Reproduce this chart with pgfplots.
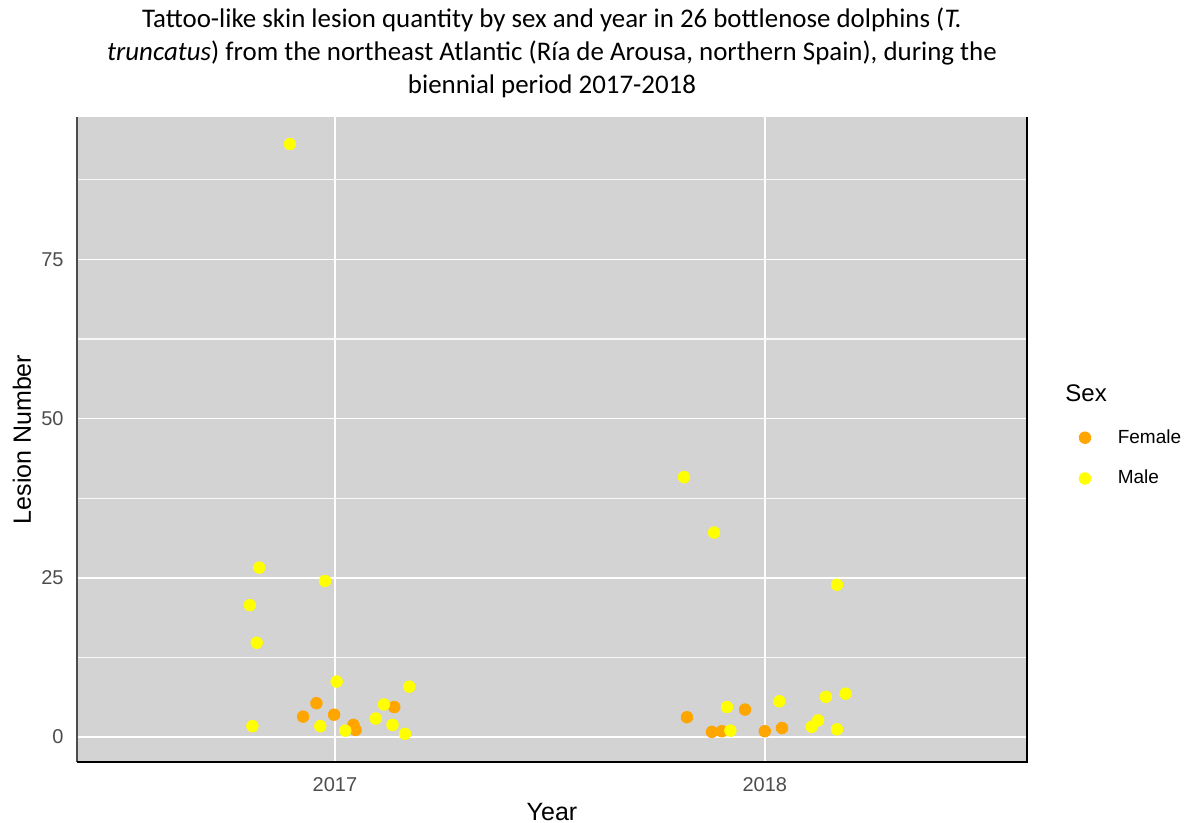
\documentclass[border=0pt]{standalone}
\usepackage{fontspec}
\setmainfont{Liberation Sans}
\newfontfamily\titlefont{Carlito}
\usepackage{pgfplots}
\pgfplotsset{compat=1.18}

\definecolor{panel}{HTML}{D3D3D3}
\definecolor{fem}{HTML}{FFA500}
\definecolor{mal}{HTML}{FFFF00}
\definecolor{tickgray}{HTML}{4D4D4D}

\begin{document}
\begin{tikzpicture}
\useasboundingbox (-38.5pt,-30.5pt) rectangle (556pt,381pt);
\begin{axis}[
  at={(0,0)}, anchor=south west,
  scale only axis, width=475pt, height=322.5pt,
  xmin=2016.4, xmax=2018.61, ymin=-3.93, ymax=97.35,
  xtick={2017,2018}, ytick={0,25,50,75},
  minor ytick={12.5,37.5,62.5,87.5},
  major tick length=0pt, minor tick length=0pt,
  xmajorgrids, ymajorgrids, yminorgrids,
  major grid style={white, line width=0.8pt},
  minor grid style={white!85!panel, line width=0.6pt},
  axis background/.style={fill=panel},
  axis line style={draw=none},
  /pgf/number format/assume math mode=true,
  /pgf/number format/1000 sep={},
  ticklabel style={font=\fontsize{10}{12}\selectfont, text=tickgray},
  xticklabel style={yshift=-4pt},
  yticklabel style={xshift=-3.2pt},
  xlabel={Year}, ylabel={Lesion Number},
  every axis x label/.style={at={(axis description cs:0.5,0)}, anchor=center, yshift=-25pt, font=\fontsize{12.5}{14}\selectfont},
  every axis y label/.style={at={(axis description cs:-0.058,0.5)}, rotate=90, anchor=center, font=\fontsize{12.5}{14}\selectfont},
  legend style={at={(rel axis cs:1.0545,0.5226)}, anchor=north west, draw=none, fill=none,
    font=\fontsize{9.5}{11}\selectfont, row sep=8pt, column sep=11.5pt, inner sep=0pt},
  legend cell align=left,
  clip=false,
]
\addplot[only marks, color=fem, mark=*, mark size=2.9pt, mark options={draw=fem, fill=fem}] coordinates {
  (2016.957,5.3)(2016.926,3.2)(2016.998,3.5)(2017.138,4.7)(2017.043,1.9)(2017.048,1.1)
  (2017.819,3.1)(2017.954,4.3)(2017.877,0.8)(2017.900,0.9)(2018.000,0.9)(2018.040,1.4)
};
\addlegendentry{Female}
\addplot[only marks, color=mal, mark=*, mark size=2.9pt, mark options={draw=mal, fill=mal}] coordinates {
  (2016.895,93.1)(2016.824,26.6)(2016.977,24.5)(2016.802,20.7)(2016.818,14.8)
  (2017.004,8.7)(2017.173,7.9)(2017.114,5.1)(2017.095,2.9)(2016.808,1.7)
  (2016.966,1.7)(2017.134,1.9)(2017.024,1.0)(2017.163,0.5)
  (2017.812,40.8)(2017.882,32.1)(2018.168,23.9)(2017.912,4.7)(2018.034,5.6)
  (2018.142,6.3)(2018.188,6.8)(2018.124,2.6)(2018.109,1.6)(2018.168,1.2)(2017.920,1.0)
};
\addlegendentry{Male}
\draw[black!70, line width=0.8pt] (rel axis cs:0,1) -- (rel axis cs:0,0);
\draw[black, line width=0.8pt] (rel axis cs:0,0) -- (rel axis cs:1,0) -- (rel axis cs:1,1);
\node[anchor=west, inner sep=0pt, font=\fontsize{12}{14}\selectfont] at (rel axis cs:1.04,0.572) {Sex};
\node[anchor=south, align=center, inner sep=0pt, yshift=9.5pt,
  font=\titlefont\fontsize{13.45}{16.5}\selectfont] at (rel axis cs:0.5,1)
  {Tattoo-like skin lesion quantity by sex and year in 26 bottlenose dolphins (\textit{T.}\\
   \textit{truncatus}) from the northeast Atlantic (Ría de Arousa, northern Spain), during the\\
   biennial period 2017-2018};
\end{axis}
\end{tikzpicture}
\end{document}
